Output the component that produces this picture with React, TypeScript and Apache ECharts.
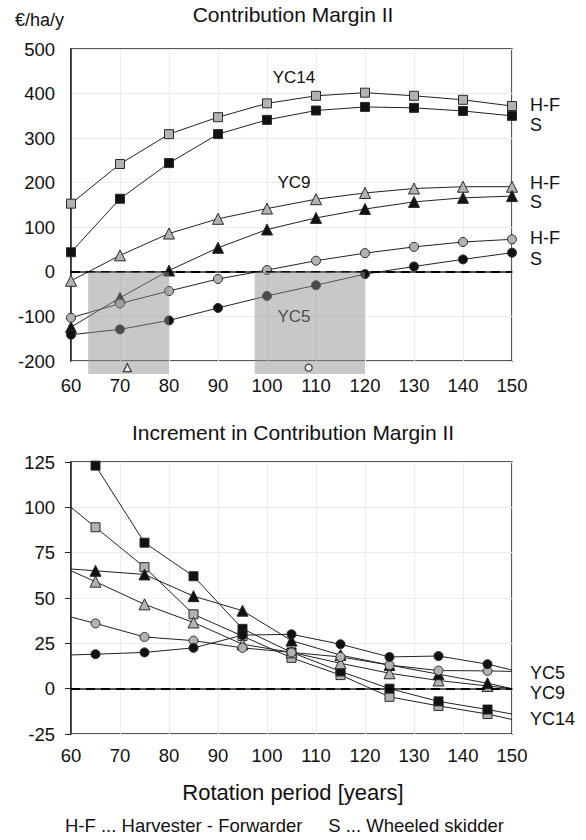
import React, { useEffect, useRef } from "react";
import * as echarts from "echarts";

const FONT = "'Liberation Sans', Arial, Helvetica, sans-serif";

// Contribution Margin II (€/ha/y) by rotation period
const periods = [60, 70, 80, 90, 100, 110, 120, 130, 140, 150];
const cmYC14HF = [153, 242, 309, 347, 378, 395, 402, 395, 386, 372];
const cmYC14S = [44, 164, 244, 309, 341, 362, 370, 368, 361, 350];
const cmYC9HF = [-20, 37, 86, 119, 142, 163, 177, 187, 191, 191];
const cmYC9S = [-124, -58, 3, 54, 95, 121, 141, 157, 166, 170];
const cmYC5HF = [-103, -71, -43, -16, 4, 25, 42, 56, 67, 73];
const cmYC5S = [-141, -129, -109, -81, -54, -30, -5, 12, 28, 43];

// Increment in Contribution Margin II: markers at mid-decade,
// line ends carried out to the axis limits
const incPeriods = [60, 65, 75, 85, 95, 105, 115, 125, 135, 145, 150];
const incYC14HF = [100, 89, 67, 41, 29, 17, 7.5, -4.5, -9.5, -14, -17];
const incYC14S = [null, 123, 80.5, 62, 33, 20, 9.5, 0, -7, -11.5, -14];
const incYC9HF = [65, 59, 46.5, 36.5, 24.5, 20, 14, 8.5, 4.5, 1.5, 0];
const incYC9S = [66, 65, 63, 51, 43, 26.5, 18.5, 13, 8, 3, 0];
const incYC5HF = [39.5, 36, 28.5, 26.5, 22.5, 20, 17.5, 13, 10, 9.8, 9.5];
const incYC5S = [18.6, 19, 20, 22.5, 29.5, 30, 24.5, 17.5, 18, 13.5, 10.3];

// Axis ranges
const periodRange = [60, 150, 10];
const cmRange = [-200, 500, 100];
const incRange = [-25, 125, 25];

// Rotation ranges in which CM II of the skidder system is negative
const lossBands = [
  [63.5, 80],
  [97.5, 120],
];
const bandKeys = [
  { period: 71.5, value: -215, symbol: "triangle" },
  { period: 108.5, value: -215, symbol: "circle" },
];

// Yield class tags inside the upper panel
const curveTags = ["YC14", "YC9", "YC5"];
const curveTagPeriods = [105.5, 105.5, 105.5];
const curveTagValues = [435, 200, -101];
const curveTagColors = ["#111", "#111", "#505050"];

const GRAY = "#b2b2b2";
const BLACK = "#111111";
const LINE = "#222222";

const labelText = { color: "#111", fontSize: 18, fontFamily: FONT };

function cmSeries(name: string, values: number[], symbol: string, fill: string, size: number, tag: string, dy: number) {
  return {
    type: "line",
    name,
    xAxisIndex: 0,
    yAxisIndex: 0,
    data: periods.map((p, i) => [p, values[i]]),
    symbol,
    symbolSize: size,
    showAllSymbol: true,
    lineStyle: { color: LINE, width: 1 },
    itemStyle: { color: fill, borderColor: "#2a2a2a", borderWidth: 1 },
    endLabel: { show: true, formatter: tag, distance: 18, offset: [0, dy], ...labelText },
    emphasis: { disabled: true },
    silent: true,
    z: 3,
  };
}

function incSeries(name: string, values: (number | null)[], symbol: string, fill: string, size: number, tag?: string, dy = 0) {
  const last = incPeriods.length - 1;
  const data = incPeriods
    .map((p, i) =>
      values[i] == null
        ? null
        : { value: [p, values[i]], symbol: i === 0 || i === last ? "none" : symbol }
    )
    .filter((d) => d !== null);
  return {
    type: "line",
    name,
    xAxisIndex: 1,
    yAxisIndex: 1,
    data,
    symbol,
    symbolSize: size,
    showAllSymbol: true,
    lineStyle: { color: LINE, width: 1 },
    itemStyle: { color: fill, borderColor: "#2a2a2a", borderWidth: 1 },
    endLabel: tag
      ? { show: true, formatter: tag, distance: 18, offset: [0, dy], ...labelText }
      : { show: false },
    emphasis: { disabled: true },
    silent: true,
    z: 3,
  };
}

const zeroLine = {
  silent: true,
  symbol: ["none", "none"],
  label: { show: false },
  lineStyle: { color: "#000", width: 2, type: [9, 6] },
  data: [{ yAxis: 0 }],
};

function App() {
  const ref = useRef<HTMLDivElement>(null);

  useEffect(() => {
    if (!ref.current) return;
    const chart = echarts.init(ref.current, null, { renderer: "svg" });

    const axisLabel = { color: "#111", fontSize: 18.5, fontFamily: FONT };
    const split = { show: true, lineStyle: { color: "#ececec", width: 1 } };
    const axisLine = { show: true, lineStyle: { color: "#222", width: 1.5 } };

    const xAxisBase = {
      type: "value",
      min: periodRange[0],
      max: periodRange[1],
      interval: periodRange[2],
      axisLine,
      axisTick: { show: false },
      splitLine: split,
    };

    const option = {
      animation: false,
      backgroundColor: "#fff",
      title: [
        {
          text: "Contribution Margin II",
          left: "center",
          top: 4,
          padding: 0,
          textStyle: { fontSize: 21, fontWeight: "normal", color: "#111", fontFamily: FONT },
        },
        {
          text: "€/ha/y",
          left: 15,
          top: 11,
          padding: 0,
          textStyle: { fontSize: 18, fontWeight: "normal", color: "#111", fontFamily: FONT },
        },
        {
          text: "Increment in Contribution Margin II",
          left: "center",
          top: 422,
          padding: 0,
          textStyle: { fontSize: 21, fontWeight: "normal", color: "#111", fontFamily: FONT },
        },
        {
          text: "Rotation period [years]",
          left: "center",
          top: 781,
          padding: 0,
          textStyle: { fontSize: 22, fontWeight: "normal", color: "#111", fontFamily: FONT },
        },
        {
          text: "H-F ... Harvester - Forwarder\u00a0\u00a0\u00a0\u00a0\u00a0S ... Wheeled skidder",
          left: 65,
          top: 816,
          padding: 0,
          textStyle: { fontSize: 18.5, fontWeight: "normal", color: "#111", fontFamily: FONT },
        },
      ],
      grid: [
        { left: 71, top: 49, width: 441, height: 312, show: true, borderColor: "#222", borderWidth: 1.5, backgroundColor: "transparent" },
        { left: 71, top: 462, width: 441, height: 272, show: true, borderColor: "#222", borderWidth: 1.5, backgroundColor: "transparent" },
      ],
      xAxis: [
        { ...xAxisBase, gridIndex: 0, axisLabel: { ...axisLabel, margin: 15 } },
        { ...xAxisBase, gridIndex: 1, axisLabel: { ...axisLabel, margin: 12 } },
      ],
      yAxis: [
        {
          type: "value",
          gridIndex: 0,
          min: cmRange[0],
          max: cmRange[1],
          interval: cmRange[2],
          axisLine,
          axisTick: { show: false },
          axisLabel: { ...axisLabel, margin: 16 },
          splitLine: split,
        },
        {
          type: "value",
          gridIndex: 1,
          min: incRange[0],
          max: incRange[1],
          interval: incRange[2],
          axisLine,
          axisTick: { show: true, length: 6, lineStyle: { color: "#222", width: 1 } },
          axisLabel: { ...axisLabel, margin: 16 },
          splitLine: split,
        },
      ],
      series: [
        { ...cmSeries("YC14 H-F", cmYC14HF, "rect", GRAY, 9, "H-F", -1), markLine: zeroLine },
        cmSeries("YC14 S", cmYC14S, "rect", BLACK, 9, "S", 9),
        cmSeries("YC9 H-F", cmYC9HF, "triangle", GRAY, 11, "H-F", -4),
        cmSeries("YC9 S", cmYC9S, "triangle", BLACK, 11, "S", 6),
        cmSeries("YC5 H-F", cmYC5HF, "circle", GRAY, 9, "H-F", -1),
        cmSeries("YC5 S", cmYC5S, "circle", BLACK, 9, "S", 6),
        {
          type: "custom",
          name: "negative range",
          xAxisIndex: 0,
          yAxisIndex: 0,
          clip: false,
          silent: true,
          z: 5,
          data: lossBands,
          renderItem: (_params: any, api: any) => {
            const a = api.coord([api.value(0), 0]);
            const b = api.coord([api.value(1), cmRange[0]]);
            return {
              type: "rect",
              shape: { x: a[0], y: a[1], width: b[0] - a[0], height: b[1] - a[1] + 13 },
              style: { fill: "rgba(140,140,140,0.48)" },
            };
          },
        },
        ...bandKeys.map((k) => ({
          type: "scatter",
          xAxisIndex: 0,
          yAxisIndex: 0,
          clip: false,
          silent: true,
          z: 6,
          symbol: k.symbol,
          symbolSize: k.symbol === "triangle" ? 8 : 7,
          itemStyle: { color: "#fff", borderColor: "#111", borderWidth: 1.2 },
          data: [[k.period, k.value]],
        })),
        {
          type: "custom",
          name: "yield class tags",
          xAxisIndex: 0,
          yAxisIndex: 0,
          silent: true,
          z: 7,
          data: curveTags.map((_t, i) => [curveTagPeriods[i], curveTagValues[i], i]),
          renderItem: (_params: any, api: any) => {
            const p = api.coord([api.value(0), api.value(1)]);
            const i = api.value(2);
            return {
              type: "text",
              x: p[0],
              y: p[1],
              style: {
                text: curveTags[i],
                fill: curveTagColors[i],
                font: `17px ${FONT}`,
                align: "center",
                verticalAlign: "middle",
              },
            };
          },
        },
        { ...incSeries("YC14 H-F", incYC14HF, "rect", GRAY, 9, "YC14", 0), markLine: zeroLine },
        incSeries("YC14 S", incYC14S, "rect", BLACK, 9),
        incSeries("YC9 H-F", incYC9HF, "triangle", GRAY, 11, "YC9", 4),
        incSeries("YC9 S", incYC9S, "triangle", BLACK, 11),
        incSeries("YC5 H-F", incYC5HF, "circle", GRAY, 9),
        incSeries("YC5 S", incYC5S, "circle", BLACK, 9, "YC5", 3),
      ],
    };

    chart.setOption(option as any);
    return () => chart.dispose();
  }, []);

  return (
    <div
      ref={ref}
      style={{ position: "fixed", left: 0, top: 0, width: 586, height: 840, background: "#fff" }}
    />
  );
}

export default App;
